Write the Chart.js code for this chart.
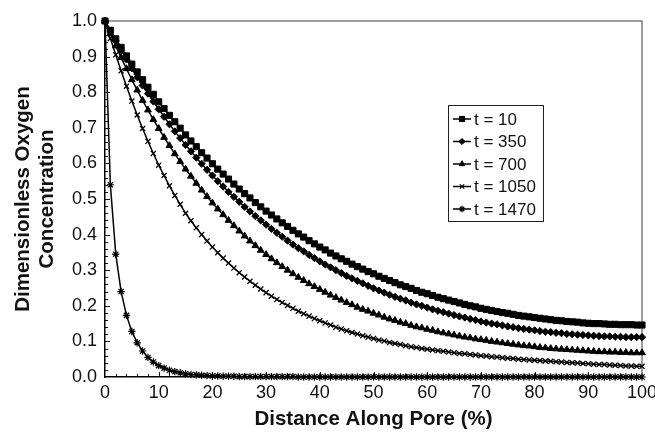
<!DOCTYPE html>
<html>
<head>
<meta charset="utf-8">
<script src="https://cdn.jsdelivr.net/npm/chart.js@4.4.1/dist/chart.umd.min.js"></script>
<style>
  html, body { margin: 0; padding: 0; background: #fff; }
</style>
</head>
<body>
<canvas id="myChart" width="655" height="433"></canvas>
<script>
// data
const distance = [
  0, 1, 2, 3, 4, 5, 6, 7, 8, 9, 10, 11, 12, 13, 14, 15, 16, 17, 18, 19,
  20, 21, 22, 23, 24, 25, 26, 27, 28, 29, 30, 31, 32, 33, 34, 35, 36, 37, 38, 39,
  40, 41, 42, 43, 44, 45, 46, 47, 48, 49, 50, 51, 52, 53, 54, 55, 56, 57, 58, 59,
  60, 61, 62, 63, 64, 65, 66, 67, 68, 69, 70, 71, 72, 73, 74, 75, 76, 77, 78, 79,
  80, 81, 82, 83, 84, 85, 86, 87, 88, 89, 90, 91, 92, 93, 94, 95, 96, 97, 98, 99, 100,
];

const t10 = [
  1.000, 0.974, 0.950, 0.926, 0.902, 0.879, 0.857, 0.835, 0.814, 0.794,
  0.773, 0.754, 0.735, 0.717, 0.699, 0.680, 0.663, 0.647, 0.630, 0.615,
  0.599, 0.584, 0.570, 0.556, 0.542, 0.528, 0.515, 0.503, 0.490, 0.478,
  0.466, 0.455, 0.444, 0.433, 0.423, 0.412, 0.402, 0.393, 0.383, 0.374,
  0.365, 0.357, 0.348, 0.340, 0.332, 0.325, 0.317, 0.310, 0.303, 0.296,
  0.290, 0.283, 0.277, 0.271, 0.265, 0.259, 0.254, 0.249, 0.243, 0.238,
  0.234, 0.229, 0.224, 0.220, 0.216, 0.212, 0.208, 0.204, 0.200, 0.197,
  0.193, 0.190, 0.187, 0.184, 0.181, 0.179, 0.176, 0.173, 0.171, 0.169,
  0.167, 0.165, 0.163, 0.161, 0.159, 0.158, 0.156, 0.155, 0.154, 0.152,
  0.151, 0.150, 0.150, 0.149, 0.148, 0.148, 0.147, 0.147, 0.147, 0.146, 0.146,
];

const t350 = [
  1.000, 0.972, 0.944, 0.918, 0.892, 0.867, 0.842, 0.819, 0.796, 0.774,
  0.752, 0.731, 0.710, 0.690, 0.671, 0.652, 0.634, 0.616, 0.599, 0.582,
  0.566, 0.550, 0.535, 0.520, 0.506, 0.492, 0.478, 0.465, 0.452, 0.440,
  0.428, 0.416, 0.405, 0.394, 0.383, 0.372, 0.362, 0.353, 0.343, 0.334,
  0.325, 0.316, 0.308, 0.300, 0.292, 0.284, 0.277, 0.270, 0.263, 0.256,
  0.249, 0.243, 0.237, 0.231, 0.225, 0.220, 0.215, 0.209, 0.204, 0.200,
  0.195, 0.190, 0.186, 0.182, 0.178, 0.174, 0.170, 0.167, 0.163, 0.160,
  0.156, 0.153, 0.150, 0.148, 0.145, 0.142, 0.140, 0.137, 0.135, 0.133,
  0.131, 0.129, 0.127, 0.126, 0.124, 0.123, 0.121, 0.120, 0.119, 0.118,
  0.117, 0.116, 0.115, 0.114, 0.114, 0.113, 0.113, 0.112, 0.112, 0.112, 0.112,
];

const t700 = [
  1.000, 0.965, 0.930, 0.897, 0.866, 0.835, 0.806, 0.777, 0.750, 0.723,
  0.698, 0.673, 0.650, 0.627, 0.605, 0.584, 0.564, 0.544, 0.525, 0.507,
  0.489, 0.472, 0.456, 0.440, 0.425, 0.410, 0.396, 0.382, 0.369, 0.356,
  0.344, 0.332, 0.321, 0.310, 0.300, 0.290, 0.280, 0.271, 0.262, 0.254,
  0.246, 0.238, 0.230, 0.223, 0.216, 0.209, 0.203, 0.196, 0.190, 0.185,
  0.179, 0.174, 0.168, 0.163, 0.159, 0.154, 0.150, 0.145, 0.141, 0.138,
  0.134, 0.131, 0.127, 0.124, 0.121, 0.118, 0.115, 0.112, 0.110, 0.107,
  0.105, 0.103, 0.100, 0.098, 0.096, 0.094, 0.092, 0.090, 0.088, 0.087,
  0.085, 0.083, 0.082, 0.080, 0.079, 0.078, 0.077, 0.076, 0.075, 0.074,
  0.073, 0.072, 0.071, 0.071, 0.070, 0.070, 0.069, 0.069, 0.068, 0.068, 0.068,
];

const t1050 = [
  1.000, 0.951, 0.905, 0.860, 0.817, 0.775, 0.736, 0.698, 0.662, 0.628,
  0.595, 0.566, 0.537, 0.510, 0.485, 0.460, 0.439, 0.419, 0.400, 0.382,
  0.365, 0.349, 0.334, 0.320, 0.306, 0.293, 0.281, 0.269, 0.258, 0.247,
  0.237, 0.227, 0.218, 0.209, 0.201, 0.193, 0.185, 0.178, 0.171, 0.164,
  0.158, 0.152, 0.146, 0.140, 0.135, 0.130, 0.125, 0.121, 0.116, 0.112,
  0.108, 0.104, 0.101, 0.097, 0.094, 0.091, 0.088, 0.085, 0.083, 0.080,
  0.078, 0.076, 0.074, 0.072, 0.070, 0.068, 0.066, 0.065, 0.063, 0.062,
  0.060, 0.059, 0.057, 0.056, 0.054, 0.053, 0.052, 0.050, 0.049, 0.048,
  0.047, 0.046, 0.045, 0.044, 0.043, 0.042, 0.041, 0.040, 0.039, 0.038,
  0.037, 0.036, 0.035, 0.035, 0.034, 0.033, 0.032, 0.031, 0.031, 0.030, 0.030,
];

const t1470 = [
  1.000, 0.540, 0.345, 0.240, 0.173, 0.128, 0.096, 0.073, 0.055, 0.042,
  0.032, 0.025, 0.019, 0.015, 0.012, 0.009, 0.007, 0.006, 0.005, 0.004,
  0.003, 0.003, 0.002, 0.002, 0.002, 0.001, 0.001, 0.001, 0.001, 0.001,
  0.001, 0.001, 0.001, 0.001, 0.001, 0.001, 0.000, 0.000, 0.000, 0.000,
  0.000, 0.000, 0.000, 0.000, 0.000, 0.000, 0.000, 0.000, 0.000, 0.000,
  0.000, 0.000, 0.000, 0.000, 0.000, 0.000, 0.000, 0.000, 0.000, 0.000,
  0.000, 0.000, 0.000, 0.000, 0.000, 0.000, 0.000, 0.000, 0.000, 0.000,
  0.000, 0.000, 0.000, 0.000, 0.000, 0.000, 0.000, 0.000, 0.000, 0.000,
  0.000, 0.000, 0.000, 0.000, 0.000, 0.000, 0.000, 0.000, 0.000, 0.000,
  0.000, 0.000, 0.000, 0.000, 0.000, 0.000, 0.000, 0.000, 0.000, 0.000, 0.000,
];

const seriesLabels = ["t = 10", "t = 350", "t = 700", "t = 1050", "t = 1470"];
const seriesValues = [t10, t350, t700, t1050, t1470];

// marker look per series
const markers = [
  { style: "rect", radius: 4.3, border: 1 },
  { style: "rectRot", radius: 3.6, border: 1 },
  { style: "triangle", radius: 3.9, border: 1 },
  { style: "crossRot", radius: 3.6, border: 1.3 },
  { style: "star", radius: 3.7, border: 1.2 },
];

const FONT = "'Liberation Sans', Arial, sans-serif";
const INK = "#111111";

const datasets = seriesLabels.map((label, s) => ({
  label,
  data: distance.map((d, i) => ({ x: d, y: seriesValues[s][i] })),
  borderColor: "#000",
  backgroundColor: "#000",
  borderWidth: 1.5,
  pointStyle: markers[s].style,
  pointRadius: markers[s].radius,
  pointBorderWidth: markers[s].border,
  pointBackgroundColor: "#000",
  pointBorderColor: "#000",
  tension: 0,
  clip: 6,
}));

// frame on top/right plus inward tick marks
const frameTicks = {
  id: "frameTicks",
  beforeDatasetsDraw(chart) {
    const { ctx, chartArea: a, scales } = chart;
    const x = scales.x, y = scales.y;
    ctx.save();
    ctx.strokeStyle = "#7d7d7d";
    ctx.lineWidth = 1.5;
    ctx.beginPath();
    ctx.moveTo(a.left, a.top);
    ctx.lineTo(a.right, a.top);
    ctx.lineTo(a.right, a.bottom);
    ctx.stroke();

    ctx.strokeStyle = "#111";
    ctx.lineWidth = 1;
    ctx.beginPath();
    for (let i = 1; i < 50; i++) {
      const px = Math.round(x.getPixelForValue(i * 2)) + 0.5;
      const len = i % 5 === 0 ? 5 : 3;
      ctx.moveTo(px, a.bottom);
      ctx.lineTo(px, a.bottom - len);
    }
    for (let i = 1; i < 50; i++) {
      const py = Math.round(y.getPixelForValue(i * 0.02)) + 0.5;
      const len = i % 5 === 0 ? 5 : 3;
      ctx.moveTo(a.left, py);
      ctx.lineTo(a.left + len, py);
    }
    ctx.stroke();
    ctx.restore();
  },
};

// boxed legend inside the plot
const boxLegend = {
  id: "boxLegend",
  afterDraw(chart) {
    const { ctx } = chart;
    const bx = 448.5, by = 105.5, bw = 95, bh = 116;
    ctx.save();
    ctx.fillStyle = "#fff";
    ctx.fillRect(bx, by, bw, bh);
    ctx.strokeStyle = "#222";
    ctx.lineWidth = 1;
    ctx.strokeRect(bx, by, bw, bh);
    ctx.font = "17px " + FONT;
    ctx.textBaseline = "middle";
    chart.data.datasets.forEach((ds, i) => {
      const cy = 119 + i * 22.5;
      ctx.strokeStyle = "#000";
      ctx.lineWidth = 1.5;
      ctx.beginPath();
      ctx.moveTo(453, cy);
      ctx.lineTo(471, cy);
      ctx.stroke();
      ctx.fillStyle = "#000";
      ctx.lineWidth = ds.pointBorderWidth;
      Chart.helpers.drawPoint(ctx, {
        pointStyle: ds.pointStyle,
        radius: ds.pointRadius * 0.85,
        rotation: 0,
        borderWidth: ds.pointBorderWidth,
      }, 462, cy);
      ctx.fillStyle = INK;
      ctx.fillText(ds.label, 474, cy + 1);
    });
    ctx.restore();
  },
};

const config = {
  type: "line",
  data: { datasets },
  options: {
    responsive: false,
    animation: false,
    devicePixelRatio: 1,
    layout: { padding: { top: 21, right: 13, left: 0, bottom: 0 } },
    scales: {
      x: {
        type: "linear",
        min: 0,
        max: 100,
        grid: { display: false, drawTicks: false },
        border: { display: true, color: "#000", width: 1.5 },
        ticks: {
          stepSize: 10,
          padding: 5,
          color: INK,
          font: { size: 18, family: FONT },
        },
        title: {
          display: true,
          text: "Distance Along Pore (%)",
          color: INK,
          font: { size: 20.5, weight: "bold", family: FONT, lineHeight: 1.2 },
          padding: { top: 0, bottom: 1 },
        },
        afterFit(scale) {
          scale.height = 56;
          scale.paddingLeft = 0;
          scale.paddingRight = 0;
        },
      },
      y: {
        min: 0,
        max: 1,
        grid: { display: false, drawTicks: false },
        border: { display: true, color: "#000", width: 1.5 },
        ticks: {
          stepSize: 0.1,
          padding: 8,
          color: INK,
          font: { size: 18, family: FONT },
          callback: (v) => v.toFixed(1),
        },
        title: {
          display: true,
          text: ["Dimensionless Oxygen", "Concentration"],
          color: INK,
          font: { size: 20.5, weight: "bold", family: FONT, lineHeight: 1.15 },
          padding: { top: 12, bottom: 0 },
        },
        afterFit(scale) {
          scale.width = 105;
          scale.paddingTop = 0;
          scale.paddingBottom = 0;
        },
      },
    },
    plugins: {
      legend: { display: false },
      tooltip: { enabled: false },
    },
  },
  plugins: [frameTicks, boxLegend],
};

const myChart = new Chart(document.getElementById("myChart"), config);
</script>
</body>
</html>
